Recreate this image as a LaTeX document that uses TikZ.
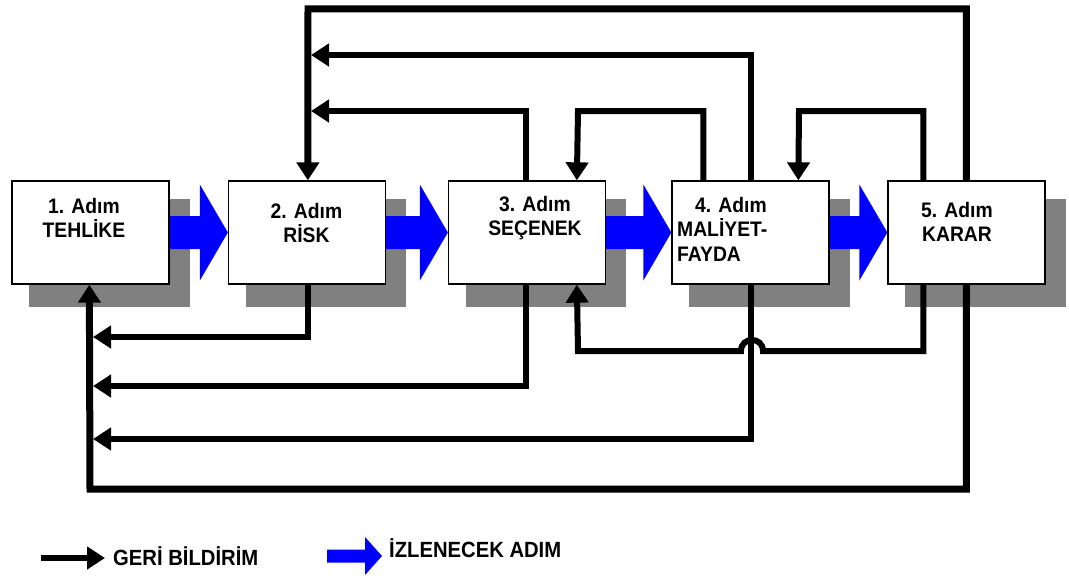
\documentclass[tikz,border=0pt]{standalone}
\usepackage{fontspec}
\setmainfont{Liberation Sans}
\newfontfamily\dgfont{Liberation Sans}[FakeStretch=0.92]
\usetikzlibrary{arrows.meta,calc}
\pgfdeclarelayer{shadowlayer}
\pgfdeclarelayer{flowlayer}
\pgfsetlayers{shadowlayer,flowlayer,main}
\begin{document}
\begin{tikzpicture}[x=1pt,y=-1pt,
  stepbox/.style={draw=black,line width=1.3pt,fill=white,minimum width=157pt,minimum height=103pt,inner sep=0pt},
  steptext/.style={font=\dgfont\bfseries\fontsize{21}{24.5}\selectfont,align=center,inner sep=0pt},
  legendtext/.style={font=\dgfont\bfseries\fontsize{22}{26}\selectfont,inner sep=0pt},
  fbtip/.style={-{Triangle[length=18pt,width=22pt]}},
  fb/.style={line width=6pt,fbtip},
  outerfb/.style={line width=7pt,fbtip},
  flowfill/.style={fill=blue},
  shadefill/.style={fill=gray}
]
\useasboundingbox (0,0) rectangle (1069,578);

% boxes
\node[stepbox] (b1) at (90.5,232.5) {};
\node[stepbox] (b2) at (307,232.5) {};
\node[stepbox] (b3) at (527,232.5) {};
\node[stepbox] (b4) at (750.5,232.5) {};
\node[stepbox] (b5) at (966.5,232.5) {};

% texts
\node[steptext] (t1) at (84,218) {1. Adım\\TEHLİKE};
\node[steptext] (t2) at (306.5,223) {2. Adım\\RİSK};
\node[steptext] (t3) at (535,218) {3. Adım\\SEÇENEK};
\node[steptext,align=left,anchor=north west] (t4) at (677,197) {\hspace*{18pt}4. Adım\\MALİYET-\\FAYDA};
\node[steptext] (t5) at (957,222) {5. Adım\\KARAR};

% background and shadows
\begin{pgfonlayer}{shadowlayer}
\fill[white] (0,0) rectangle (1069,578);
\foreach \b in {b1,b2,b3,b4,b5}
  \fill[shadefill] ($(\b.north west)+(18,19)$) rectangle ($(\b.south east)+(20,22)$);
\end{pgfonlayer}

% blue flow arrows
\begin{pgfonlayer}{flowlayer}
\foreach \a/\b in {b1/b2,b2/b3,b3/b4,b4/b5}
  \fill[flowfill] ($(\a.east)+(-10,-16.5)$) -- ($(\b.west)+(-28,-16.5)$) -- ($(\b.west)+(-28,-48)$)
     -- (\b.west) -- ($(\b.west)+(-28,48)$) -- ($(\b.west)+(-28,16.5)$) -- ($(\a.east)+(-10,16.5)$) -- cycle;
\end{pgfonlayer}

% feedback connectors, top
\draw[outerfb] ([xshift=79pt]b5.north west) |- (308,9) -- ([xshift=80pt]b2.north west);
\draw[fb] ([xshift=80pt]b4.north west) |- (311,55);
\draw[fb] ([xshift=78pt]b3.north west) |- (311,111);
\draw[fb] ([xshift=32pt]b4.north west) |- (578,111) -- ([xshift=129pt]b3.north west);
\draw[fb] ([xshift=36pt]b5.north west) |- (799,111) -- ([xshift=127pt]b4.north west);

% feedback connectors, bottom
\draw[fb] ([xshift=80pt]b2.south west) |- (93,337);
\draw[fb] ([xshift=78pt]b3.south west) |- (93,386);
\draw[fb] ([xshift=80pt]b4.south west) |- (93,439);
\draw[outerfb] ([xshift=79pt]b5.south west) |- (90,489) -- ([xshift=78pt]b1.south west);
\draw[fb] ([xshift=36pt]b5.south west) |- (763,351) .. controls (763,336.3) and (741,336.3) .. (741,351)
   -- (578,351) -- ([xshift=129pt]b3.south west);

% legend
\coordinate (g1) at (41,558);
\coordinate (g2) at (105,558);
\draw[fb] (g1) -- (g2);
\node[legendtext,anchor=west] (gt) at (113,556) {GERİ BİLDİRİM};
\coordinate (h1) at (327,556);
\fill[flowfill] ($(h1)+(0,-6.5)$) -- ($(h1)+(38,-6.5)$) -- ($(h1)+(38,-19)$) -- ($(h1)+(55,0)$)
   -- ($(h1)+(38,19)$) -- ($(h1)+(38,6.5)$) -- ($(h1)+(0,6.5)$) -- cycle;
\node[legendtext,anchor=west] (ht) at (389,548) {İZLENECEK ADIM};
\end{tikzpicture}
\end{document}
